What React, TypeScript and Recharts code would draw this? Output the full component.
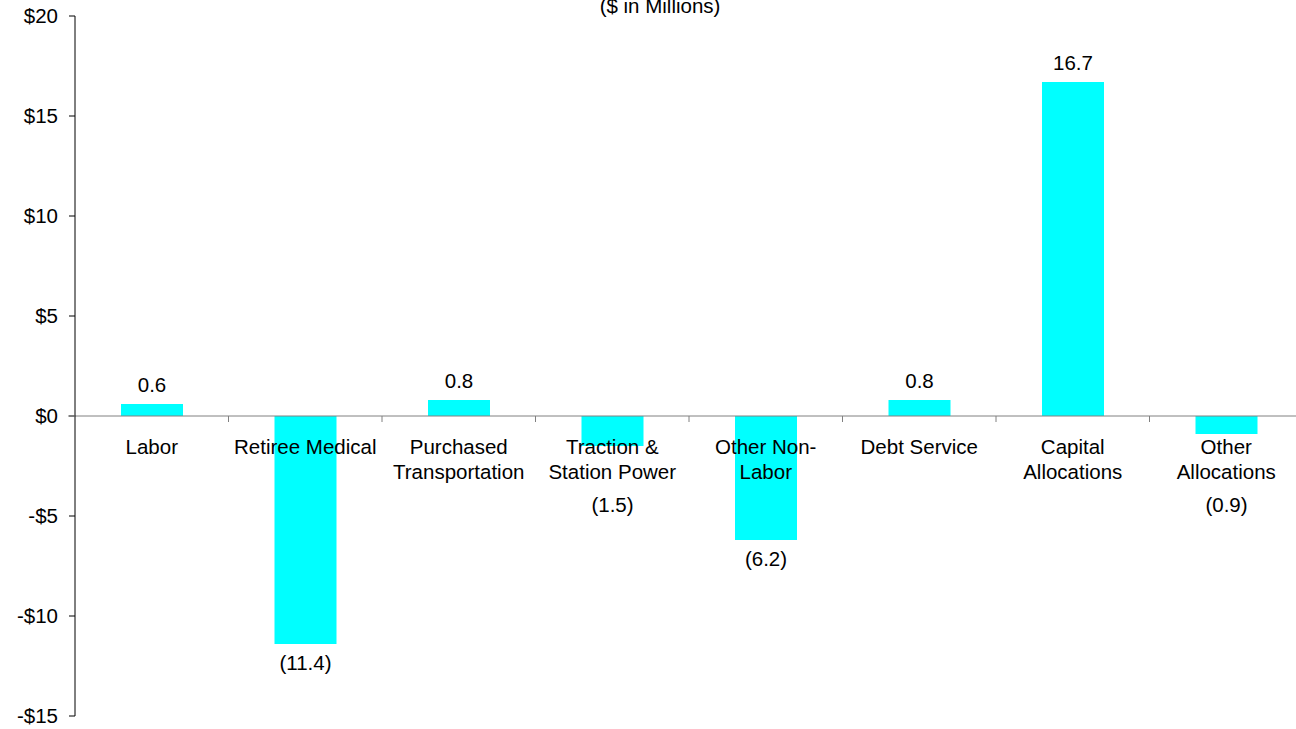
import { BarChart, Bar, XAxis, YAxis, ReferenceLine, LabelList } from 'recharts'

const categories = [
  'Labor',
  'Retiree Medical',
  'Purchased\nTransportation',
  'Traction &\nStation Power',
  'Other Non-\nLabor',
  'Debt Service',
  'Capital\nAllocations',
  'Other\nAllocations',
]
const variance = [0.6, -11.4, 0.8, -1.5, -6.2, 0.8, 16.7, -0.9]
const yTicks = [-15, -10, -5, 0, 5, 10, 15, 20]

const FONT = '"Liberation Sans", Arial, sans-serif'
const FS = 20.5
const CHART_W = 1303
const CHART_H = 729
const TOP = 16
const X_H = 13
const Y_W = 75
const PLOT_H = CHART_H - TOP - X_H
const PLOT_W = CHART_W - Y_W
const Y_MIN = -15
const Y_MAX = 20
const ZERO_Y = TOP + (PLOT_H * Y_MAX) / (Y_MAX - Y_MIN)
const BAND = PLOT_W / categories.length

const data = categories.map((name, i) => ({ name, value: variance[i] }))

const fmtMoney = (v: number) => (v < 0 ? `-$${-v}` : `$${v}`)
const fmtValue = (v: number) => (v < 0 ? `(${(-v).toFixed(1)})` : v.toFixed(1))

const CategoryTick = (props: any) => {
  const { x, payload, index } = props
  const lines = String(payload.value).split('\n')
  return (
    <g>
      {index === 0 && (
        <line x1={Y_W - 7} x2={Y_W} y1={ZERO_Y} y2={ZERO_Y} stroke="#808080" strokeWidth={1} />
      )}
      <line x1={x + BAND / 2} x2={x + BAND / 2} y1={ZERO_Y} y2={ZERO_Y + 6} stroke="#808080" strokeWidth={1} />
      {lines.map((l, i) => (
        <text
          key={i}
          x={x}
          y={ZERO_Y + 30 + i * 25}
          textAnchor="middle"
          dominantBaseline="central"
          fontSize={FS}
          fontFamily={FONT}
          fill="#000"
        >
          {l}
        </text>
      ))}
    </g>
  )
}

const ValueLabel = (props: any) => {
  const { x, y, width, height, value } = props
  const top = Math.min(y, y + height)
  const bottom = Math.max(y, y + height)
  const cy = value >= 0 ? top - 20 : Math.max(bottom + 18, 504)
  return (
    <text
      x={x + width / 2}
      y={cy}
      textAnchor="middle"
      dominantBaseline="central"
      fontSize={FS}
      fontFamily={FONT}
      fill="#000"
    >
      {fmtValue(value)}
    </text>
  )
}

export default function App() {
  return (
    <div style={{ position: 'absolute', left: 0, top: 0, width: 1296, height: 729, overflow: 'hidden', background: '#fff', fontFamily: FONT }}>
      <BarChart width={CHART_W} height={CHART_H} data={data} margin={{ top: TOP, right: 0, bottom: 0, left: 0 }}>
        <YAxis
          domain={[Y_MIN, Y_MAX]}
          ticks={yTicks}
          width={Y_W}
          tickFormatter={fmtMoney}
          tick={{ fontSize: FS, fill: '#000', fontFamily: FONT }}
          tickSize={6}
          tickMargin={11}
          axisLine={{ stroke: '#000' }}
          tickLine={{ stroke: '#000' }}
          interval={0}
        />
        <Bar dataKey="value" fill="#00FFFF" barSize={62} isAnimationActive={false}>
          <LabelList dataKey="value" content={<ValueLabel />} />
        </Bar>
        <ReferenceLine y={0} stroke="#808080" strokeWidth={1} />
        <XAxis
          dataKey="name"
          height={X_H}
          axisLine={false}
          tickLine={false}
          interval={0}
          tick={(p: any) => <CategoryTick {...p} />}
        />
      </BarChart>
      <div
        style={{
          position: 'absolute',
          left: 660,
          top: -5,
          transform: 'translateX(-50%)',
          fontSize: FS,
          lineHeight: '22px',
          whiteSpace: 'nowrap',
          color: '#000',
        }}
      >
        ($ in Millions)
      </div>
    </div>
  )
}
